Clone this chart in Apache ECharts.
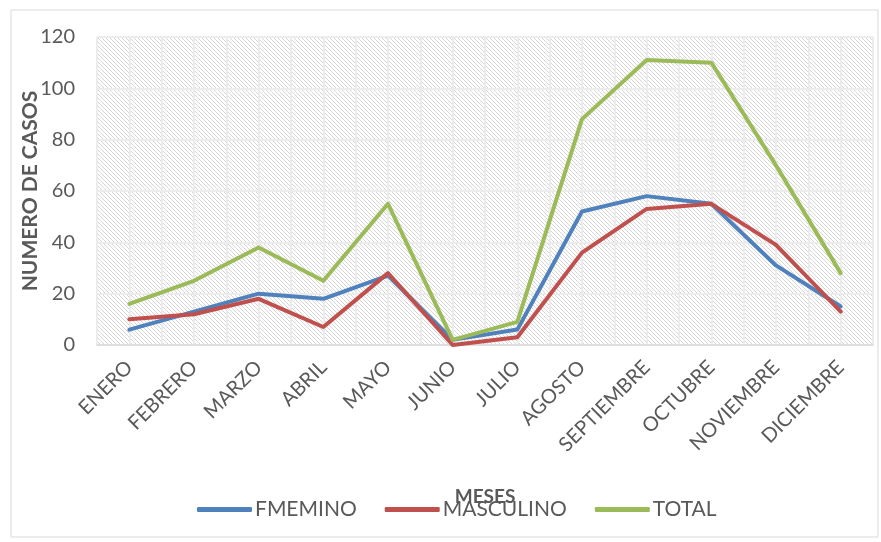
<!DOCTYPE html>
<html>
<head>
<meta charset="utf-8">
<script src="https://cdn.jsdelivr.net/npm/echarts@6/dist/echarts.min.js"></script>
<style>
  html, body { margin: 0; padding: 0; background: #fff; }
  #main { width: 881px; height: 542px; }
</style>
</head>
<body>
<div id="main"></div>
<script>
// datos
const meses = ["ENERO", "FEBRERO", "MARZO", "ABRIL", "MAYO", "JUNIO", "JULIO", "AGOSTO", "SEPTIEMBRE", "OCTUBRE", "NOVIEMBRE", "DICIEMBRE"];
const femenino = [6, 13, 20, 18, 27, 2, 6, 52, 58, 55, 31, 15];
const masculino = [10, 12, 18, 7, 28, 0, 3, 36, 53, 55, 39, 13];
const total = [16, 25, 38, 25, 55, 2, 9, 88, 111, 110, 70, 28];
const yTicks = [0, 20, 40, 60, 80, 100, 120];

// rejilla auxiliar: lineas verticales cada media categoria
const medias = [];
for (let i = 0; i <= meses.length * 2; i++) medias.push("");

// fondo rayado del area del grafico (diagonal pixel a pixel)
const pat = document.createElement("canvas");
pat.width = 4;
pat.height = 4;
const pctx = pat.getContext("2d");
pctx.fillStyle = "#ffffff";
pctx.fillRect(0, 0, 4, 4);
pctx.fillStyle = "#d6d6d6";
for (let i = 0; i < 4; i++) pctx.fillRect(i, i, 1, 1);

const txt = "#595959";
const fuente = "Lato, 'Open Sans', sans-serif";

const chart = echarts.init(document.getElementById("main"));
const option = {
  backgroundColor: "#fff",
  textStyle: { fontFamily: fuente },
  animation: false,
  graphic: [{
    type: "rect",
    shape: { x: 11, y: 10, width: 867, height: 527 },
    style: { fill: "none", stroke: "#d9d9d9", lineWidth: 1 },
    silent: true
  }],
  grid: {
    left: 97, right: 8, top: 37, bottom: 197,
    show: true,
    borderWidth: 0,
    backgroundColor: { image: pat, repeat: "repeat" }
  },
  legend: {
    top: 499,
    left: 197,
    padding: 0,
    itemWidth: 55,
    itemHeight: 5,
    itemGap: 28,
    icon: "roundRect",
    textStyle: { color: txt, fontSize: 21, fontFamily: fuente, padding: [0, 0, 0, -2] },
    data: ["FMEMINO", "MASCULINO", "TOTAL"]
  },
  xAxis: [{
    type: "category",
    data: meses,
    boundaryGap: true,
    name: "MESES",
    nameLocation: "middle",
    nameGap: 142,
    nameMoveOverlap: false,
    nameTextStyle: { color: txt, fontSize: 19, fontWeight: "bold", fontFamily: fuente },
    axisLine: { lineStyle: { color: "#d9d9d9", width: 1.5 } },
    axisTick: { show: false },
    axisLabel: { color: txt, fontSize: 20, rotate: 45, margin: 19, interval: 0, fontFamily: fuente },
    splitLine: { show: false }
  }, {
    type: "category",
    data: medias,
    boundaryGap: false,
    position: "bottom",
    axisLine: { show: false },
    axisTick: { show: false },
    axisLabel: { show: false },
    splitLine: { show: true, interval: 0, lineStyle: { color: "#ececec", width: 2 } }
  }],
  yAxis: {
    type: "value",
    min: yTicks[0],
    max: yTicks[yTicks.length - 1],
    interval: yTicks[1] - yTicks[0],
    name: "NUMERO DE CASOS",
    nameLocation: "middle",
    nameGap: 56,
    nameMoveOverlap: false,
    nameTextStyle: { color: txt, fontSize: 21, fontWeight: "bold", fontFamily: fuente },
    axisLine: { show: false },
    axisTick: { show: false },
    axisLabel: { color: txt, fontSize: 20, margin: 22, fontFamily: fuente },
    splitLine: { lineStyle: { color: "#ececec", width: 2 } }
  },
  series: [{
    name: "FMEMINO",
    type: "line",
    data: femenino,
    symbol: "none",
    color: "#4F81BD",
    lineStyle: { width: 4, cap: "round", join: "round" }
  }, {
    name: "MASCULINO",
    type: "line",
    data: masculino,
    symbol: "none",
    color: "#C0504D",
    lineStyle: { width: 4, cap: "round", join: "round" }
  }, {
    name: "TOTAL",
    type: "line",
    data: total,
    symbol: "none",
    color: "#9BBB59",
    lineStyle: { width: 4, cap: "round", join: "round" }
  }]
};
option && chart.setOption(option);
</script>
</body>
</html>
